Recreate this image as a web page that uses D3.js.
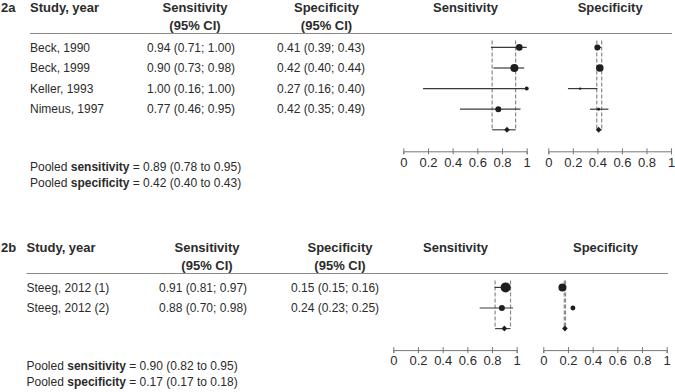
<!DOCTYPE html>
<html>
<head>
<meta charset="utf-8">
<script src="https://cdn.jsdelivr.net/npm/d3@7"></script>
<style>
  body { margin: 0; background: #fff; }
  svg { font-family: "Liberation Sans", Arial, sans-serif; }
  .txt { font-size: 12px; fill: #2b2b2b; }
  .hdr { font-size: 13px; font-weight: bold; fill: #2b2b2b; }
  .axis text { font-size: 13px; fill: #2b2b2b; }
  .axis path, .axis line { stroke: #777; }
</style>
</head>
<body>
<div id="vis-container"></div>
<script>
// ---- data: panel 2a ----
let studies2a = ["Beck, 1990", "Beck, 1999", "Keller, 1993", "Nimeus, 1997"];
let sensText2a = ["0.94 (0.71; 1.00)", "0.90 (0.73; 0.98)", "1.00 (0.16; 1.00)", "0.77 (0.46; 0.95)"];
let specText2a = ["0.41 (0.39; 0.43)", "0.42 (0.40; 0.44)", "0.27 (0.16; 0.40)", "0.42 (0.35; 0.49)"];
let sens2a = [0.94, 0.90, 1.00, 0.77];
let sensLo2a = [0.71, 0.73, 0.16, 0.46];
let sensHi2a = [1.00, 0.98, 1.00, 0.95];
let sensW2a = [11, 16, 4, 9];
let spec2a = [0.40, 0.42, 0.26, 0.41];
let specLo2a = [0.39, 0.40, 0.16, 0.34];
let specHi2a = [0.43, 0.44, 0.40, 0.49];
let specW2a = [9, 14, 1.5, 2.2];
let pooledSens2a = [0.84, 0.72, 0.91];   // as drawn: estimate, lower, upper
let pooledSpec2a = [0.41, 0.395, 0.435];
let pooledSensText2a = "0.89 (0.78 to 0.95)";
let pooledSpecText2a = "0.42 (0.40 to 0.43)";

// ---- data: panel 2b ----
let studies2b = ["Steeg, 2012 (1)", "Steeg, 2012 (2)"];
let sensText2b = ["0.91 (0.81; 0.97)", "0.88 (0.70; 0.98)"];
let specText2b = ["0.15 (0.15; 0.16)", "0.24 (0.23; 0.25)"];
let sens2b = [0.91, 0.88];
let sensLo2b = [0.82, 0.70];
let sensHi2b = [0.95, 0.97];
let sensW2b = [25, 9];
let spec2b = [0.155, 0.24];
let specLo2b = [0.15, 0.23];
let specHi2b = [0.16, 0.25];
let specW2b = [16, 6];
let pooledSens2b = [0.90, 0.825, 0.95];
let pooledSpec2b = [0.175, 0.17, 0.18];
let pooledSensText2b = "0.90 (0.82 to 0.95)";
let pooledSpecText2b = "0.17 (0.17 to 0.18)";

let tickVals = [0, 0.2, 0.4, 0.6, 0.8, 1];

let W = 675, H = 392;
let svg = d3.select("#vis-container")
  .append("svg")
  .attr("width", W)
  .attr("height", H);

let r = d3.scaleSqrt().domain([0, 25]).range([0, 5]);

let panels = [
  {label: "2a", top: 0, xStudy: 30, xSens: 147, xSpec: 277, hSens: 195, hSpec: 326.5,
   sensRange: [403.3, 526.7], specRange: [548.3, 671], ruleEnd: 672,
   studies: studies2a, sensText: sensText2a, specText: specText2a,
   sens: sens2a, sensLo: sensLo2a, sensHi: sensHi2a, sensW: sensW2a,
   spec: spec2a, specLo: specLo2a, specHi: specHi2a, specW: specW2a,
   pSens: pooledSens2a, pSpec: pooledSpec2a, pSensText: pooledSensText2a, pSpecText: pooledSpecText2a},
  {label: "2b", top: 240, xStudy: 26.5, xSens: 159, xSpec: 291, hSens: 207, hSpec: 340,
   sensRange: [393.3, 516.7], specRange: [543.3, 666.7], ruleEnd: 668,
   studies: studies2b, sensText: sensText2b, specText: specText2b,
   sens: sens2b, sensLo: sensLo2b, sensHi: sensHi2b, sensW: sensW2b,
   spec: spec2b, specLo: specLo2b, specHi: specHi2b, specW: specW2b,
   pSens: pooledSens2b, pSpec: pooledSpec2b, pSensText: pooledSensText2b, pSpecText: pooledSpecText2b}
];

panels.forEach(drawPanel);

function drawPanel(p){
  let g = svg.append("g").attr("transform", `translate(0, ${p.top})`);
  let n = p.studies.length;

  let y = d3.scaleLinear().domain([0, 1]).range([47.4, 68]);
  let pooledY = y(n);
  let axisY = pooledY + 21.5;

  //headers
  g.append("text").attr("class", "hdr").attr("x", 1).attr("y", 12).text(p.label);
  g.append("text").attr("class", "hdr").attr("x", p.xStudy).attr("y", 12).text("Study, year");
  [[p.hSens, "Sensitivity"], [p.hSpec, "Specificity"]].forEach(h => {
    g.append("text").attr("class", "hdr").attr("x", h[0]).attr("y", 12)
      .attr("text-anchor", "middle").text(h[1]);
    g.append("text").attr("class", "hdr").attr("x", h[0]).attr("y", 29.5)
      .attr("text-anchor", "middle").text("(95% CI)");
  });

  g.append("line")
    .attr("x1", p.xStudy).attr("x2", p.ruleEnd)
    .attr("y1", 33.5).attr("y2", 33.5)
    .attr("stroke", "#8a8a8a").attr("stroke-width", 1.2);

  //table rows
  let rows = g.selectAll(".row")
    .data(p.studies)
    .enter()
    .append("g")
    .attr("transform", (d, i) => `translate(0, ${y(i)})`);
  rows.append("text").attr("class", "txt").attr("x", p.xStudy).attr("dy", "0.35em").text(d => d);
  rows.append("text").attr("class", "txt").attr("x", p.xSens).attr("dy", "0.35em").text((d, i) => p.sensText[i]);
  rows.append("text").attr("class", "txt").attr("x", p.xSpec).attr("dy", "0.35em").text((d, i) => p.specText[i]);

  //pooled text
  let pt = [["sensitivity", p.pSensText], ["specificity", p.pSpecText]];
  pt.forEach((t, k) => {
    let tx = g.append("text").attr("class", "txt")
      .attr("x", p.xStudy).attr("y", pooledY + 37 + k * 16).attr("dy", "0.35em");
    tx.append("tspan").text("Pooled ");
    tx.append("tspan").attr("font-weight", "bold").text(t[0]);
    tx.append("tspan").text(" = " + t[1]);
  });

  //plots
  let plots = [
    {title: "Sensitivity", range: p.sensRange, est: p.sens, lo: p.sensLo, hi: p.sensHi, w: p.sensW, pooled: p.pSens},
    {title: "Specificity", range: p.specRange, est: p.spec, lo: p.specLo, hi: p.specHi, w: p.specW, pooled: p.pSpec}
  ];

  plots.forEach(pl => {
    let x = d3.scaleLinear().domain([0, 1]).range(pl.range);

    g.append("text").attr("class", "hdr")
      .attr("x", (pl.range[0] + pl.range[1]) / 2 + 0.5).attr("y", 12)
      .attr("text-anchor", "middle").text(pl.title);

    //dashed pooled CI lines
    g.selectAll(null)
      .data([pl.pooled[1], pl.pooled[2]])
      .enter()
      .append("line")
      .attr("x1", d => x(d)).attr("x2", d => x(d))
      .attr("y1", y(0) - 7).attr("y2", pooledY)
      .attr("stroke", "#8a8a8a").attr("stroke-width", 1.2)
      .attr("stroke-dasharray", "4,2");

    //pooled horizontal
    g.append("line")
      .attr("x1", x(pl.pooled[1])).attr("x2", x(pl.pooled[2]))
      .attr("y1", pooledY).attr("y2", pooledY)
      .attr("stroke", "#444").attr("stroke-width", 1.2);

    //study CI lines
    g.selectAll(null)
      .data(pl.est)
      .enter()
      .append("line")
      .attr("x1", (d, i) => x(pl.lo[i])).attr("x2", (d, i) => x(pl.hi[i]))
      .attr("y1", (d, i) => y(i)).attr("y2", (d, i) => y(i))
      .attr("stroke", "#3a3a3a").attr("stroke-width", 1.2);

    //study points
    g.selectAll(null)
      .data(pl.est)
      .enter()
      .append("circle")
      .attr("cx", d => x(d))
      .attr("cy", (d, i) => y(i))
      .attr("r", (d, i) => r(pl.w[i]))
      .attr("fill", "#1e1e1e");

    //pooled diamond
    let cx = x(pl.pooled[0]);
    g.append("path")
      .attr("d", `M${cx - 2.8},${pooledY} L${cx},${pooledY - 3} L${cx + 2.8},${pooledY} L${cx},${pooledY + 3} Z`)
      .attr("fill", "#1e1e1e");

    //axis
    let ax = g.append("g")
      .attr("class", "axis")
      .attr("transform", `translate(0, ${axisY})`)
      .call(d3.axisBottom(x).tickValues(tickVals).tickSizeOuter(0).tickSize(3).tickPadding(3)
        .tickFormat(d3.format("")));
    ax.selectAll(".tick line").attr("y1", -3).attr("y2", 3);
    ax.select(".domain").attr("stroke-width", 1);
  });
}
</script>
</body>
</html>
